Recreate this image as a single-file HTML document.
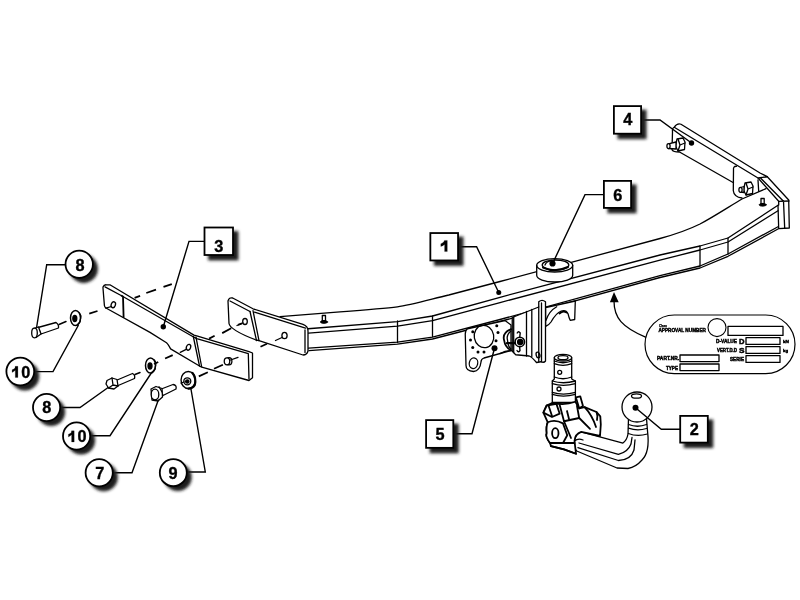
<!DOCTYPE html>
<html><head><meta charset="utf-8">
<style>
html,body{margin:0;padding:0;background:#fff;}
svg{display:block;will-change:transform;}
text{font-family:"Liberation Sans",sans-serif;font-weight:bold;}
</style></head>
<body>
<svg width="800" height="600" viewBox="0 0 800 600">
<defs>
<filter id="sh" x="-50%" y="-50%" width="200%" height="200%"><feGaussianBlur stdDeviation="1.7"/></filter>
</defs>
<rect width="800" height="600" fill="#fff"/>

<g fill="none" stroke="#000" stroke-width="1.3" stroke-linejoin="round" stroke-linecap="round">

<!-- ===== main beam ===== -->
<path id="beamtop" d="M280,316.7 L340,311.8 C365,310 385,308.5 397.4,306.9 C410,305.2 430,299.5 448.8,295 L500,281.5 L660,238.5 C680,233 690,229 700,224 C715,216 730,206 742,199 L766,188.7"/>
<path d="M308,328.75 L397.5,321.7 L432.5,316 L500,297.3 L660,255 L700,246 L728,238 L778,205.3"/>
<path d="M308.5,333.1 L397.5,326.2 L432.5,320.6 L500,302.6 L660,260.2 L700,250 L728,242 L778,210.7"/>
<path d="M308.5,348.2 L397.5,342.2 L432.5,337.2 L500,319.5 L660,275.6 L700,266 L728,254 L778,226.7"/>
<path d="M309,350.6 L397.5,344.2 L432.5,339 L500,321.5 L660,277.5 L700,268 L728,256.3 L778,229"/>
<path d="M397.5,321 L397.5,342.5 M432.5,316 L432.5,336.5 M700,246 L700,266 M728,238 L728,254"/>
<!-- right end cap -->
<path d="M758,178 L767.3,176.7 L788.7,200 L789.3,228 L778.7,228.7 L778,205.3"/>
<path d="M758.7,178.7 L778.7,201.3 L789,201 M761,178.5 L783.5,201.3 L784.7,228.3 M778.7,201.3 L778.7,205"/>
<path d="M758,180 L758.7,191.3"/>
<!-- studs -->
<path d="M322.3,315.5 h3.2 v5.2 h-3.2 Z" fill="#fff"/>
<ellipse cx="324" cy="322" rx="3.6" ry="1.4" fill="#000" stroke-width="0.8"/>
<path d="M761,198.5 h3.2 v5.2 h-3.2 Z" fill="#fff"/>
<ellipse cx="762.7" cy="204.8" rx="3.6" ry="1.4" fill="#000" stroke-width="0.8"/>

<!-- ===== ring 6 ===== -->
<path d="M536.7,265.3 L536.7,275.3 A18,6.7 0 0 0 572.7,275.3 L572.7,265.3 A18,6.7 0 0 0 536.7,265.3 Z" fill="#fff"/>
<path d="M536.7,265.3 A18,6.7 0 0 0 572.7,265.3"/>
<ellipse cx="555.5" cy="265" rx="13.3" ry="5"/>
<path d="M543,267.5 Q555,273 568,267" stroke-width="2"/>
<path d="M545,265 Q546,261.5 552,260.3" />

<!-- ===== frame left-end bracket ===== -->
<path d="M232.7,298 L253,308.8 L303,324.3 Q308,326 308,331 L308,351 Q307,355 303,355 L259,340.7 L256,340 Q230,330 229,323.5 L228,301 Q229,297 232.7,298 Z" fill="#fff"/>
<path d="M305,330 L305,352.5"/>
<path d="M230,301 L250,311.5 M254.5,312.2 L305.5,328.2"/>
<path d="M250,311.5 L256.5,340.5 M253,310.7 L259,340.7"/>
<ellipse cx="245" cy="321.5" rx="2.3" ry="3"/>
<path d="M242.8,323 L237,325.5"/>
<ellipse cx="284.5" cy="335.5" rx="2.6" ry="3.2"/>
<path d="M282,337.5 L275.5,340.5"/>
<!-- frame left bracket: stroke for beam edge over bracket -->


<!-- ===== bracket 3 ===== -->
<path d="M103,287 Q104,284.5 106.4,284.8 L109.9,284.8 L194,335.1 L196.75,335.8 L249,351.6 L252.5,353 L252.5,377.8 L249,380.5 L200.9,366.8 L199.5,366 L170.6,348.9 Q168,344 166.5,342.7 L150,332.4 L106.4,308.2 Q104.4,307 104.4,305.4 L103,288.25 Z" fill="#fff"/>
<path d="M105,286.9 L121.6,295.8 L194,337.2 L196.75,338.6 L248.3,353.7 L249,379"/>
<path d="M121.6,295.8 L123,296.5 L123.6,317.1" stroke-width="1.8"/>
<path d="M193.3,336.5 L199.5,366 M196,337.2 L201.6,366.5"/>
<ellipse cx="113.3" cy="304.75" rx="2.1" ry="3" transform="rotate(20 113.3 304.75)"/>
<path d="M111.5,306.5 L105.75,308.2"/>
<ellipse cx="188.5" cy="347.3" rx="2.1" ry="3" transform="rotate(20 188.5 347.3)"/>
<path d="M186.7,349.1 L180.25,352.3"/>
<ellipse cx="229" cy="361.3" rx="2.9" ry="3.6" fill="#fff"/>
<ellipse cx="227" cy="361.3" rx="2.75" ry="3.5" fill="#fff"/>
<path d="M230.5,360 L238,357.3"/>

<!-- ===== bracket 4 ===== -->
<path d="M681,124.25 L760,173 L767.3,176.7 L758,178 L674.25,127.25 Q677,123 681,124.25 Z" fill="#fff"/>
<path d="M674.25,127.25 Q672,128 672.5,132 L672,149.75 Q673,152 679.5,152 L733.5,182.75"/>
<path d="M736.5,166.25 Q733,166 733.5,170 L733.3,190.7 Q734,197 742,198"/>
<!-- bolt 4a -->
<path d="M677,139 L683,138 L685,142 L684.5,149.5 L678,151 L675.5,146 Z" fill="#fff"/>
<path d="M678,139 L680,145 L678,151 M680,145 L685,143"/>
<path d="M668.5,143.8 L676,142 L676,149 L668.5,148.5" fill="#fff"/>
<ellipse cx="668.5" cy="146.1" rx="1.6" ry="2.5" fill="#fff"/>
<!-- bolt 4b -->
<path d="M745,183 L751,182 L753,186 L752.5,193.5 L746,195 L743.5,190 Z" fill="#fff"/>
<path d="M746,183 L748,189 L746,195 M748,189 L753,187"/>
<path d="M740.5,187.5 L744,186.5 L744,192.5 L740.5,192" fill="#fff"/>
<ellipse cx="740.5" cy="189.8" rx="1.6" ry="2.5" fill="#fff"/>

<!-- ===== socket plate 5 ===== -->
<path d="M467.5,328.75 L505,320.5 L511,325 L511,350.5 L484,358 Q481,359 481,362 Q480,371 473.5,371.5 Q466,371 466,365.5 L465.25,334 Q465.5,330 467.5,328.75 Z" fill="#fff"/>
<ellipse cx="484" cy="336.5" rx="9.75" ry="11.25" transform="rotate(-10 484 336.5)"/>
<ellipse cx="473.5" cy="363.25" rx="4.2" ry="5.3" transform="rotate(15 473.5 363.25)"/>
<g fill="#000" stroke="none">
<circle cx="472.75" cy="331.75" r="1.5"/><circle cx="470.5" cy="340" r="1.5"/><circle cx="472.75" cy="347.5" r="1.5"/>
<circle cx="478" cy="352" r="1.5"/><circle cx="484" cy="352" r="1.5"/><circle cx="496" cy="340.75" r="1.5"/>
<circle cx="498" cy="332.5" r="1.5"/><circle cx="496.75" cy="325.75" r="1.5"/>
</g>
<!-- ring behind nut -->
<path d="M511.1,329.1 Q502,333 504.1,340.2 Q505,347 510.5,350.1" stroke-width="1.8"/>
<path d="M511,331 Q506,335 507.5,340 Q508,347 511,349"/>
<!-- vertical bracket -->
<path d="M512.25,317.5 L538.75,307 L538.75,301.75 Q542,299 545.5,301.75 L545.5,361 Q544,363 541,361.75 L536.5,362.5 Q532,357 529.2,356 L515.75,354.75 L512.25,351.25 Z" fill="#fff"/>
<path d="M513.7,317 L513.7,352.5 M526.5,311.5 L526.5,356 M531.8,309.5 L531.8,356.5 M538.75,307 L538.75,361.5 M541.5,303 L541.5,361.75"/>
<path d="M500,353.6 Q506,350.5 511.7,350.7"/>
<ellipse cx="538" cy="355" rx="1.8" ry="3" transform="rotate(-15 538 355)"/>
<!-- wing nut -->
<path d="M517.2,333 Q518.5,330.5 520.2,333 L519.8,336.5 M517,350.5 Q518.3,353 520,350.5 L519.6,347" stroke-width="1.4"/>
<circle cx="519.8" cy="341.9" r="4.7" fill="#fff" stroke-width="1.6"/>
<circle cx="520.2" cy="341.9" r="2.6" fill="#000"/>
<path d="M507,343.2 L514.5,343.2" stroke-width="2.3"/>
<!-- hanger hook -->
<path d="M545.7,326.3 Q549,325 551,322 Q556,313 561.3,311 Q566,309.5 568,313.7 Q569,318 570.2,320.3 L574.7,319.5 L575.3,301 L545.7,307.5 Z" fill="#fff"/>
<path d="M546,320.3 Q549,311 556.7,306.7"/>
<path d="M559.5,313.5 Q563,310.5 566.5,312.5" stroke-width="1.8"/>

<!-- ===== bolts / washers (left) ===== -->
<!-- washer top -->
<ellipse cx="75.5" cy="318" rx="5" ry="7.5" fill="#fff" stroke-width="1.5"/>
<ellipse cx="74.8" cy="318.5" rx="2" ry="3" fill="#000"/>
<path d="M79.5,313 L81,316 L80,322 L77,325"/>
<!-- bolt top -->
<path d="M38,327.5 L56,322.5 Q59,324.5 58.5,328 L41,334 Z" fill="#fff"/>
<path d="M33.5,328.5 L38.5,327 L41,334 L36,337.5 Z" fill="#fff"/>
<ellipse cx="34.5" cy="333" rx="2.8" ry="4.8" fill="#fff"/>
<path d="M59,324.5 L66,321.5" stroke-width="1.5"/>
<!-- washer mid -->
<ellipse cx="150.5" cy="365.5" rx="5" ry="7.5" fill="#fff" stroke-width="1.5"/>
<ellipse cx="150" cy="366" rx="2" ry="3" fill="#000"/>
<path d="M154.5,360 L156,363 L155,369 L152,372.5"/>
<!-- bolt mid (8) -->
<path d="M116,380.5 L132.5,373.5 Q135.5,375 134.5,378.5 L117,386 Z" fill="#fff"/>
<path d="M107,380.5 L112,378 L117,379.5 L118,386 L114,389 L108.5,388 L106,384 Z" fill="#fff"/>
<path d="M112,378 L113,385 L118,386 M113,385 L108.5,388"/>
<path d="M135,374.5 L140,372.5" stroke-width="1.5"/>
<!-- bolt 7 -->
<path d="M160,389.5 L173,384.5 Q177,385 176,389 L163,395.5 Z" fill="#fff"/>
<path d="M151,389 L156,386.5 L162,388.5 L162.5,397 L158,401 L152,400 Z" fill="#fff"/>
<ellipse cx="155" cy="394.5" rx="3.8" ry="5.3" fill="#fff"/>
<path d="M159,386.8 L162,392"/>
<!-- washer 9 -->
<ellipse cx="188.25" cy="380" rx="7.2" ry="8.5" fill="#fff" stroke-width="1.4"/>
<path d="M192.5,373 Q196.5,378 194.8,385 Q193,388.5 188.5,388.7" stroke-width="2.2"/>
<circle cx="187.3" cy="381.3" r="3.5"/>
<circle cx="187.3" cy="381.5" r="1.7" fill="#000"/>
<path d="M181,383 L184,382"/>

<!-- ===== dashed lines ===== -->
<g stroke-width="1.8" stroke-linecap="butt">
<path d="M89.25,313.7 L97.5,311"/>
<path d="M134.6,297.9 L140.1,295.8 M146.3,293 L156,289.6 M163.5,286.9 L171.8,284.1"/>
<path d="M154,364 L158.25,362 M165.1,358.5 L172.7,355.1"/>
<path d="M209.1,338.6 L214.6,335.8 M222.2,333.1 L231.2,328.25 M238,324.8 L242,323.3"/>
<path d="M198.8,376.4 L207.8,372.3 M214,368.8 L222.9,364.7"/>
<path d="M260.5,346.7 L267,343.7"/>
</g>

<!-- ===== hitch ball & arm ===== -->
<!-- arm -->
<path d="M581.25,431.9 L622.9,443.1 Q627,440 628,434 L628.5,418.4 L646.5,418.4 L647.6,432 Q650,452 642,460 Q636,467 628,468.5 L617,468 L576.75,451 Q573,447 574.5,441 Q575,434 581.25,431.9 Z" fill="#fff"/>
<path d="M579,443 L618.4,454.4 Q628,452 631,444 L632,437.5"/>
<path d="M577.9,447.6 L618.4,460.5 Q631,460 634,450 L635,440"/>
<path d="M628.5,424.5 Q637.5,428 646.5,424.5 M628.5,428.2 Q637.5,431.5 646.5,428.5 M628.3,433.5 Q637.5,437 647.3,434"/>
<path d="M574.5,441 Q578,438 583,440"/>
<!-- ball -->
<circle cx="637" cy="407" r="15" fill="#fff"/>
<ellipse cx="636.5" cy="396" rx="5" ry="2.2"/>

<!-- swivel cylinder -->
<path d="M554.3,357.7 L554.3,379 L552.3,381 L552.3,402.3 L575.4,402.3 L575.4,381 L571.7,379 L571.7,357.7 Z" fill="#fff"/>
<ellipse cx="563" cy="357.7" rx="8.7" ry="3.3" fill="#fff"/>
<ellipse cx="563" cy="357.7" rx="5" ry="2"/>
<path d="M554.3,361 Q563,364.5 571.7,361 M554.3,363.7 Q563,367.2 571.7,363.7 M554.3,377 Q563,380.5 571.7,377 M552.3,381 Q563,384.5 575.4,381 M552.3,383.7 Q563,387.2 575.4,383.7 M552.3,392.3 Q563,395.8 575.4,392.3 M552.3,394.3 Q563,397.8 575.4,394.3 M552.3,402.3 Q563,405.8 575.4,402.3"/>
<circle cx="559.7" cy="372.3" r="2"/>
<circle cx="559" cy="389" r="2"/>
<!-- housing body -->
<g stroke-width="1.8">
<path d="M552.6,402.8 Q564,406 575.4,401.75 L579.2,408.25 L584.6,407.2 L596.5,412 L600.3,416.4 L600.8,424.5 L600,436 L581.25,431.9 Q575,434 574.5,441 L576,453.75 L564,449.4 L551,446.2 L550,443 Q545,436 546.7,433.2 Q546,426 547.75,422.3 L543.4,412.6 L546.7,405.5 L552.6,402.8 Z" fill="#fff"/>
<!-- left wing -->
<path d="M543.4,412.6 L546.7,405.5 L556.4,403.9 L559.7,413.7 L552,417 Z" fill="#fff"/>
<path d="M548.5,405.5 L552,416"/>
<!-- right wing -->
<path d="M575.9,397.4 L580.25,396.3 L583,406 L579.2,408.25 Z" fill="#fff"/>
<!-- body centre -->
<path d="M559.7,405 L564,421.25 L579.2,418 L577,406"/>
<path d="M564,421.25 L571,438 M579.2,418 L590,428.8 M584.6,407.2 Q592,415 596,427 M596.5,412 Q598,416 597,420"/>
<path d="M567,411 L569,419"/>
<!-- knob lobe -->
<path d="M547.75,422.3 Q555,419 563,423.4 L567.25,435.3 L563,443 L550,443 Q545,436 546.7,433.2 Q546,426 547.75,422.3 Z" fill="#fff"/>
<ellipse cx="555.3" cy="433.2" rx="3.2" ry="5"/>
<path d="M551,446.2 L564,449.4 L576,453.75"/>
<path d="M563,443 L574.5,443"/>
</g>

<!-- ===== approval plate ===== -->
<rect x="645" y="315" width="150" height="58.6" rx="29.3" ry="29.3" fill="#fff" stroke-width="1.2"/>
<circle cx="717" cy="327.6" r="9" fill="#fff" stroke-width="1.1"/>
<g stroke-width="1.3">
<rect x="728" y="326.4" width="55" height="9"/>
<rect x="746" y="337.6" width="34" height="6.8"/>
<rect x="746" y="346.6" width="34" height="6.8"/>
<rect x="746" y="355.6" width="34" height="6.8"/>
<rect x="680" y="355" width="39" height="6.6"/>
<rect x="680" y="364" width="39" height="6.6"/>
</g>
<!-- arrow -->
<path d="M645.5,337.2 C622,327 614,318 614,301" stroke-width="1.3"/>
</g>
<path d="M614,292 L609.9,302.3 L618.7,302.3 Z" fill="#000"/>
<g fill="#000" stroke="#000" stroke-width="0.45">
<text x="659" y="327.2" font-size="3.4" textLength="8" lengthAdjust="spacingAndGlyphs" stroke-width="0.25">Class</text>
<text x="658.4" y="332.4" font-size="5.2" textLength="47.6" lengthAdjust="spacingAndGlyphs">APPROVAL NUMBER</text>
<text x="716" y="343.2" font-size="5" textLength="21" lengthAdjust="spacingAndGlyphs">D-VALUE</text>
<text x="739" y="344" font-size="8" textLength="5.5" lengthAdjust="spacingAndGlyphs" stroke-width="0.5">D</text>
<text x="783" y="343.2" font-size="4.4" textLength="6" lengthAdjust="spacingAndGlyphs">kN</text>
<text x="717" y="352.2" font-size="5" textLength="20" lengthAdjust="spacingAndGlyphs">VERT.D.D</text>
<text x="739" y="353.2" font-size="8" textLength="5.5" lengthAdjust="spacingAndGlyphs" stroke-width="0.5">S</text>
<text x="783" y="352.2" font-size="4.4" textLength="5" lengthAdjust="spacingAndGlyphs">kg</text>
<text x="730" y="361.2" font-size="5" textLength="14" lengthAdjust="spacingAndGlyphs">SERIE</text>
<text x="657" y="360.4" font-size="5" textLength="22" lengthAdjust="spacingAndGlyphs">PART.NR.</text>
<text x="666" y="369.8" font-size="5" textLength="12" lengthAdjust="spacingAndGlyphs">TYPE</text>
</g>

<!-- ===== LEADERS ===== -->
<g fill="none" stroke="#000" stroke-width="1.4" stroke-linejoin="miter">
<path d="M66,264.7 L46.7,264.7 L36.5,328"/>
<path d="M34.6,371.6 L53,371.6 L78.5,325"/>
<path d="M60.5,407.5 L80,407.5 L108.5,387.2"/>
<path d="M90.5,435.7 L110,435.7 L152,372"/>
<path d="M113.5,472.8 L132,472.8 L158.5,399.5"/>
<path d="M187.3,472 L205.3,472 L190.7,387.5"/>
<path d="M204,241.4 L189,241.4 L163.3,326.7"/>
<path d="M459,246.75 L476.6,246.75 L498.75,292.5"/>
<path d="M604,194.6 L585,194.6 L552.5,263.75"/>
<path d="M641,120 L660,120 L691.5,143"/>
<path d="M453.5,433.75 L472,433.75 L494.5,348.25"/>
<path d="M680,429.2 L661.3,429.2 L635.5,407.75"/>
</g>
<g fill="#000">
<circle cx="163.3" cy="326.7" r="2.7"/>
<circle cx="498.75" cy="292.5" r="2.5"/>
<circle cx="552.5" cy="263.5" r="3.1"/>
<circle cx="691.5" cy="143" r="2.7"/>
<circle cx="494.5" cy="348.25" r="3"/>
<circle cx="635.5" cy="407.75" r="3"/>
</g>

<!-- ===== CALLOUTS ===== -->
<g filter="url(#sh)" fill="#1a1a1a">
<circle cx="83.7" cy="268.8" r="14.2"/>
<circle cx="24.8" cy="376.0" r="14.5"/>
<circle cx="51.1" cy="412.0" r="14.0"/>
<circle cx="81.1" cy="440.5" r="14.0"/>
<circle cx="103.7" cy="477.2" r="14.1"/>
<circle cx="177.8" cy="477.2" r="13.9"/>
<rect x="208.10" y="231.10" width="30.3" height="29.3"/>
<rect x="433.95" y="236.65" width="29.5" height="29.2"/>
<rect x="607.50" y="184.50" width="29.0" height="28.8"/>
<rect x="617.50" y="109.70" width="29.0" height="29.4"/>
<rect x="429.70" y="423.70" width="29.0" height="29.6"/>
<rect x="683.80" y="419.50" width="29.4" height="28.5"/>
</g>
<g fill="#fff" stroke="#000" stroke-width="1.8">
<circle cx="79.2" cy="264.3" r="13.7"/>
<circle cx="20.3" cy="371.5" r="13.9"/>
<circle cx="46.6" cy="407.5" r="13.6"/>
<circle cx="76.6" cy="436" r="13.6"/>
<circle cx="99.2" cy="472.7" r="13.6"/>
<circle cx="173.3" cy="472.7" r="13.5"/>
<rect x="204.5" y="227.5" width="28.5" height="27.5"/>
<rect x="430.35" y="233.05" width="27.7" height="27.4"/>
<rect x="603.9" y="180.9" width="27.2" height="27.0"/>
<rect x="613.9" y="106.1" width="27.2" height="27.6"/>
<rect x="426.1" y="420.1" width="27.2" height="27.75"/>
<rect x="680.2" y="415.9" width="27.6" height="26.7"/>
</g>
<g fill="#000" stroke="#000" stroke-width="0.35" font-size="16.3" text-anchor="middle">
<text x="80.0" y="270.6">8</text>
<path d="M15.20,366.30 L17.90,366.30 L17.90,377.50 L15.30,377.50 L15.30,370.30 Q13.70,371.70 12.10,372.40 L12.10,369.70 Q14.10,369.10 15.00,368.10 Q15.00,367.20 15.20,366.30 Z" stroke-width="0.2"/>
<text x="25.8" y="377.5">0</text>
<text x="46.8" y="413.4">8</text>
<path d="M71.50,430.80 L74.20,430.80 L74.20,442.00 L71.60,442.00 L71.60,434.80 Q70.00,436.20 68.40,436.90 L68.40,434.20 Q70.40,433.60 71.30,432.60 Q71.30,431.70 71.50,430.80 Z" stroke-width="0.2"/>
<text x="82.1" y="442.0">0</text>
<text x="99.7" y="478.6">7</text>
<text x="173.0" y="478.7">9</text>
<text x="218.9" y="251.6">3</text>
<path d="M444.4,240.4 L447.3,240.4 L447.3,251.6 L444.6,251.6 L444.6,244.4 Q443,245.8 440.8,246.5 L440.8,243.8 Q442.2,243.2 443.3,242.2 Q444.2,241.3 444.4,240.4 Z" stroke-width="0.2"/>
<text x="617.9" y="200.8">6</text>
<text x="627.7" y="125.4">4</text>
<text x="440.0" y="440.0">5</text>
<text x="694.2" y="435.0">2</text>
</g>
</svg>
</body></html>
